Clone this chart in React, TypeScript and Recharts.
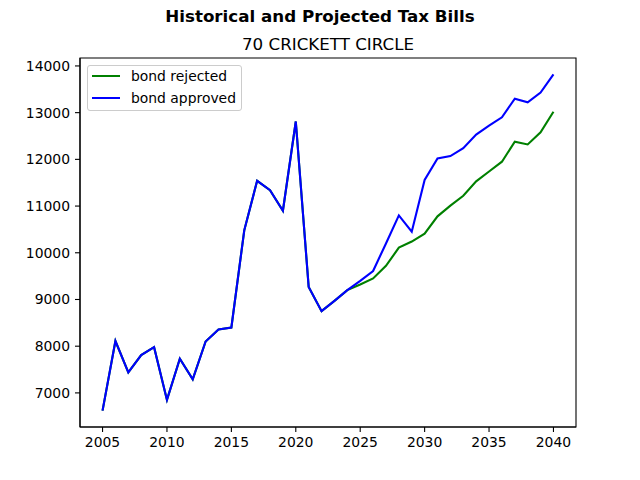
import { LineChart, Line, XAxis, YAxis, Legend, ReferenceArea } from "recharts";

const years = [
  2005, 2006, 2007, 2008, 2009, 2010, 2011, 2012, 2013, 2014, 2015, 2016,
  2017, 2018, 2019, 2020, 2021, 2022, 2023, 2024, 2025, 2026, 2027, 2028,
  2029, 2030, 2031, 2032, 2033, 2034, 2035, 2036, 2037, 2038, 2039, 2040,
];

// projected bills if the bond fails
const bondRejected = [
  6620, 8110, 7440, 7810, 7980, 6850, 7730, 7290, 8100, 8360, 8400, 10480,
  11540, 11340, 10900, 12810, 9270, 8750, 8970, 9200, 9320, 9450, 9720, 10110,
  10240, 10410, 10780, 11010, 11220, 11530, 11740, 11950, 12380, 12320, 12580, 13020,
];

// projected bills if the bond passes
const bondApproved = [
  6620, 8110, 7440, 7810, 7980, 6850, 7730, 7290, 8100, 8360, 8400, 10480,
  11540, 11340, 10900, 12810, 9270, 8750, 8970, 9200, 9400, 9610, 10200, 10800,
  10450, 11560, 12020, 12070, 12240, 12530, 12720, 12900, 13300, 13220, 13430, 13820,
];

const xTicks = [2005, 2010, 2015, 2020, 2025, 2030, 2035, 2040];
const yTicks = [7000, 8000, 9000, 10000, 11000, 12000, 13000, 14000];

const seriesOrder = ["rejected", "approved"];

const X_DOMAIN: [number, number] = [2003.25, 2041.75];
const Y_DOMAIN: [number, number] = [6270, 14170];

const FONT = "DejaVu Sans, sans-serif";

const data = years.map((year, i) => ({
  year,
  rejected: bondRejected[i],
  approved: bondApproved[i],
}));

function LegendBox({ payload }: any) {
  const items = [...(payload || [])].sort(
    (a: any, b: any) => seriesOrder.indexOf(a.dataKey) - seriesOrder.indexOf(b.dataKey)
  );
  return (
    <div
      style={{
        position: "relative",
        width: 153,
        height: 44,
        border: "1px solid #cccccc",
        borderRadius: 3,
        background: "rgba(255,255,255,0.8)",
        fontFamily: FONT,
        fontSize: 13.9,
        color: "#000",
      }}
    >
      {items.map((p: any, i: number) => (
        <div
          key={i}
          style={{
            position: "absolute",
            left: 4,
            top: i * 21.5 - 1,
            height: 22,
            display: "flex",
            alignItems: "center",
            whiteSpace: "nowrap",
          }}
        >
          <span
            style={{
              display: "inline-block",
              width: 28,
              height: 2,
              background: p.color,
              marginRight: 11,
            }}
          />
          <span>{p.value}</span>
        </div>
      ))}
    </div>
  );
}

export default function App() {
  return (
    <div style={{ position: "absolute", left: 0, top: 0, width: 640, height: 480, background: "#fff" }}>
      <LineChart
        width={640}
        height={480}
        data={data}
        margin={{ top: 58, right: 64, bottom: 23, left: 20 }}
      >
        <text x={320} y={22} textAnchor="middle" fontFamily={FONT} fontSize={16.7} fontWeight="bold" fill="#000">
          Historical and Projected Tax Bills
        </text>
        <text x={328} y={49.5} textAnchor="middle" fontFamily={FONT} fontSize={16.7} fill="#000">
          70 CRICKETT CIRCLE
        </text>
        <XAxis
          dataKey="year"
          type="number"
          domain={X_DOMAIN}
          ticks={xTicks}
          height={30}
          tickSize={5}
          tickMargin={5}
          stroke="#000"
          axisLine={{ stroke: "#000", strokeWidth: 1.1 }}
          tickLine={{ stroke: "#000", strokeWidth: 1.1 }}
          tick={{ fill: "#000", fontFamily: FONT, fontSize: 13.9 }}
          allowDataOverflow
        />
        <YAxis
          type="number"
          domain={Y_DOMAIN}
          ticks={yTicks}
          width={60}
          tickSize={5}
          tickMargin={5}
          stroke="#000"
          axisLine={{ stroke: "#000", strokeWidth: 1.1 }}
          tickLine={{ stroke: "#000", strokeWidth: 1.1 }}
          tick={{ fill: "#000", fontFamily: FONT, fontSize: 13.9 }}
          allowDataOverflow
        />
        <ReferenceArea
          x1={X_DOMAIN[0]}
          x2={X_DOMAIN[1]}
          y1={Y_DOMAIN[0]}
          y2={Y_DOMAIN[1]}
          fill="none"
          stroke="#000"
          strokeWidth={1.1}
        />
        {/* middle/center alignment keeps the legend from reserving chart space */}
        <Legend
          layout="horizontal"
          verticalAlign="middle"
          align="center"
          content={<LegendBox />}
          wrapperStyle={{ position: "absolute", left: 87, top: 65, width: 155, height: 46, bottom: "auto", right: "auto" }}
        />
        <Line
          name="bond rejected"
          dataKey="rejected"
          stroke="#008000"
          strokeWidth={2.1}
          dot={false}
          activeDot={false}
          isAnimationActive={false}
        />
        <Line
          name="bond approved"
          dataKey="approved"
          stroke="#0000ff"
          strokeWidth={2.1}
          dot={false}
          activeDot={false}
          isAnimationActive={false}
        />
      </LineChart>
    </div>
  );
}
